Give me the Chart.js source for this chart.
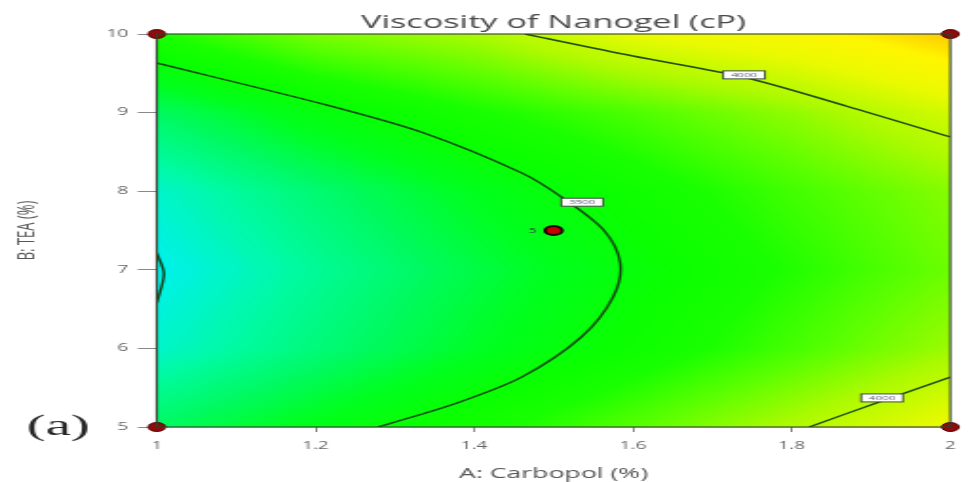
<!DOCTYPE html>
<html>
<head>
<meta charset="utf-8">
<title>Viscosity of Nanogel (cP)</title>
<script src="https://cdn.jsdelivr.net/npm/chart.js@4.4.0/dist/chart.umd.min.js"></script>
<style>
  html, body { margin: 0; padding: 0; background: #fff; overflow: hidden; }
  #grafico { display: block; }
</style>
</head>
<body>
<!-- the source picture is stretched sideways, so the canvas is drawn narrow and widened by css -->
<canvas id="grafico" width="511" height="482" style="width:971px;height:482px"></canvas>
<script>
// axis ticks
const carbopolTicks = [1, 1.2, 1.4, 1.6, 1.8, 2];
const teaTicks = [5, 6, 7, 8, 9, 10];

// viscosity (rows = TEA 5..10, cols = Carbopol 1..2)
const gridCarbopol = [1, 1.2, 1.4, 1.6, 1.8, 2];
const gridTea = [5, 6, 7, 8, 9, 10];
const viscosity = [
  [3285, 3442, 3607, 3784, 3970, 4169],
  [3064, 3231, 3399, 3571, 3746, 3925],
  [2990, 3166, 3338, 3505, 3668, 3828],
  [3064, 3250, 3424, 3587, 3738, 3878],
  [3285, 3481, 3640, 3760, 3900, 4076],
  [3654, 3859, 3955, 4150, 4250, 4422]
];

// contour lines
const contour3500X = [1.000, 1.214, 1.337, 1.460, 1.510, 1.563, 1.584, 1.575, 1.535, 1.460, 1.378, 1.279];
const contour3500Y = [9.631, 9.097, 8.740, 8.232, 7.926, 7.506, 7.087, 6.654, 6.145, 5.636, 5.305, 5.000];
const contour4000TopX = [1.464, 1.600, 1.740, 1.870, 2.000];
const contour4000TopY = [10.00, 9.720, 9.450, 9.080, 8.690];
const contour4000BottomX = [1.822, 1.917, 2.000];
const contour4000BottomY = [5.000, 5.343, 5.636];
const contour3000X = [1.000, 1.009, 1.000];
const contour3000Y = [7.214, 6.950, 6.578];

// contour labels
const contourLabelText = ['3500', '4000', '4000'];
const contourLabelX = [1.536, 1.740, 1.914];
const contourLabelY = [7.86, 9.48, 5.37];

// design points
const designCarbopol = [1, 2, 1, 2];
const designTea = [5, 5, 10, 10];
const centerCarbopol = [1.5];
const centerTea = [7.5];
const centerRuns = ['5'];

const colorStops = [
  [2990, [0, 240, 240]],
  [3060, [0, 245, 205]],
  [3150, [0, 250, 160]],
  [3280, [0, 250, 100]],
  [3420, [0, 255, 30]],
  [3550, [10, 255, 0]],
  [3650, [25, 255, 0]],
  [3800, [95, 255, 0]],
  [3950, [170, 250, 0]],
  [4150, [235, 250, 0]],
  [4300, [255, 245, 0]],
  [4422, [255, 200, 0]]
];

function toPoints(xs, ys) {
  return xs.map((x, i) => ({ x: x, y: ys[i] }));
}

function colorFor(v) {
  if (v <= colorStops[0][0]) return colorStops[0][1];
  for (let i = 1; i < colorStops.length; i++) {
    if (v <= colorStops[i][0]) {
      const [v0, c0] = colorStops[i - 1];
      const [v1, c1] = colorStops[i];
      const t = (v - v0) / (v1 - v0);
      return [0, 1, 2].map(k => c0[k] + (c1[k] - c0[k]) * t);
    }
  }
  return colorStops[colorStops.length - 1][1];
}

function cellIndex(arr, v) {
  let i = 0;
  while (i < arr.length - 2 && v > arr[i + 1]) i++;
  return i;
}

function valueAt(x, y) {
  const i = cellIndex(gridCarbopol, x);
  const j = cellIndex(gridTea, y);
  const tx = Math.min(1, Math.max(0, (x - gridCarbopol[i]) / (gridCarbopol[i + 1] - gridCarbopol[i])));
  const ty = Math.min(1, Math.max(0, (y - gridTea[j]) / (gridTea[j + 1] - gridTea[j])));
  return viscosity[j][i] * (1 - tx) * (1 - ty) + viscosity[j][i + 1] * tx * (1 - ty) +
    viscosity[j + 1][i] * (1 - tx) * ty + viscosity[j + 1][i + 1] * tx * ty;
}

// colour map under the lines
const mapaColor = {
  id: 'mapaColor',
  beforeDatasetsDraw(chart) {
    const { ctx, chartArea, scales } = chart;
    const w = Math.ceil(chartArea.right - chartArea.left);
    const h = Math.ceil(chartArea.bottom - chartArea.top);
    const off = document.createElement('canvas');
    off.width = w;
    off.height = h;
    const octx = off.getContext('2d');
    const img = octx.createImageData(w, h);
    for (let py = 0; py < h; py++) {
      const yv = scales.y.getValueForPixel(chartArea.top + py + 0.5);
      for (let px = 0; px < w; px++) {
        const xv = scales.x.getValueForPixel(chartArea.left + px + 0.5);
        const c = colorFor(valueAt(xv, yv));
        const k = (py * w + px) * 4;
        img.data[k] = c[0];
        img.data[k + 1] = c[1];
        img.data[k + 2] = c[2];
        img.data[k + 3] = 255;
      }
    }
    octx.putImageData(img, 0, 0);
    ctx.save();
    ctx.drawImage(off, chartArea.left, chartArea.top, chartArea.right - chartArea.left, chartArea.bottom - chartArea.top);
    ctx.restore();
  },
  afterDatasetsDraw(chart) {
    const { ctx, chartArea, scales } = chart;
    ctx.save();
    // frame
    ctx.strokeStyle = 'rgba(45,65,45,0.9)';
    ctx.lineWidth = 1.2;
    ctx.strokeRect(chartArea.left, chartArea.top, chartArea.right - chartArea.left, chartArea.bottom - chartArea.top);

    // contour labels
    ctx.font = '6px "Open Sans"';
    ctx.textAlign = 'center';
    ctx.textBaseline = 'middle';
    contourLabelText.forEach((t, i) => {
      const cx = scales.x.getPixelForValue(contourLabelX[i]);
      const cy = scales.y.getPixelForValue(contourLabelY[i]);
      ctx.fillStyle = '#ffffff';
      ctx.fillRect(cx - 11, cy - 4, 22, 8);
      ctx.strokeStyle = '#3d4d3d';
      ctx.lineWidth = 1;
      ctx.strokeRect(cx - 11, cy - 4, 22, 8);
      ctx.fillStyle = '#555577';
      ctx.fillText(t, cx, cy + 0.5);
    });

    // replicate count beside the centre point
    ctx.font = '7px "Open Sans"';
    ctx.textAlign = 'right';
    ctx.fillStyle = '#333';
    centerRuns.forEach((t, i) => {
      ctx.fillText(t, scales.x.getPixelForValue(centerCarbopol[i]) - 9, scales.y.getPixelForValue(centerTea[i]));
    });
    ctx.restore();
  },
  afterDraw(chart) {
    const { ctx, chartArea } = chart;
    ctx.save();
    ctx.font = '18px "Open Sans"';
    ctx.fillStyle = '#4a4a4a';
    ctx.textAlign = 'center';
    ctx.textBaseline = 'alphabetic';
    ctx.fillText('Viscosity of Nanogel (cP)', (chartArea.left + chartArea.right) / 2, 28);

    ctx.font = '30px "Liberation Serif"';
    ctx.fillStyle = '#262626';
    ctx.textAlign = 'left';
    ctx.fillText('(a)', 14, 435);
    ctx.restore();
  }
};

const lineaContorno = (pts) => ({
  data: pts,
  showLine: true,
  tension: 0.3,
  pointRadius: 0,
  borderColor: 'rgba(15,60,15,0.9)',
  borderWidth: 1.5,
  fill: false
});

const ctx = document.getElementById('grafico');
new Chart(ctx, {
  type: 'scatter',
  data: {
    datasets: [
      {
        label: 'center',
        data: toPoints(centerCarbopol, centerTea),
        pointRadius: 4.5,
        backgroundColor: '#c40000',
        borderColor: '#1a0000',
        borderWidth: 1.8
      },
      {
        label: 'design',
        data: toPoints(designCarbopol, designTea),
        pointRadius: 4.5,
        backgroundColor: '#8e0c0c',
        borderColor: '#5a0000',
        borderWidth: 1,
        clip: false
      },
      lineaContorno(toPoints(contour3500X, contour3500Y)),
      lineaContorno(toPoints(contour4000TopX, contour4000TopY)),
      lineaContorno(toPoints(contour4000BottomX, contour4000BottomY)),
      lineaContorno(toPoints(contour3000X, contour3000Y))
    ]
  },
  options: {
    responsive: false,
    animation: false,
    events: [],
    layout: {
      autoPadding: false,
      padding: { top: 34, right: 2, bottom: 0, left: 0 }
    },
    plugins: {
      legend: { display: false },
      tooltip: { enabled: false },
      title: { display: false }
    },
    scales: {
      x: {
        type: 'linear',
        position: 'bottom',
        min: 1,
        max: 2,
        afterBuildTicks: (s) => { s.ticks = carbopolTicks.map(v => ({ value: v })); },
        afterFit: (s) => { s.height = 55; },
        ticks: {
          color: '#666',
          font: { size: 10, family: 'Open Sans' },
          padding: 8,
          maxRotation: 0,
          autoSkip: false,
          callback: (v) => String(Math.round(v * 10) / 10)
        },
        grid: { drawOnChartArea: false, drawTicks: true, tickLength: 5, color: '#888' },
        border: { display: true, color: 'rgba(45,65,45,0.9)', width: 1.2 },
        title: {
          display: true,
          text: 'A: Carbopol (%)',
          color: '#555',
          font: { size: 14, family: 'Open Sans' },
          padding: { top: 0, bottom: 0 }
        }
      },
      y: {
        type: 'linear',
        position: 'left',
        min: 5,
        max: 10,
        afterBuildTicks: (s) => { s.ticks = teaTicks.map(v => ({ value: v })); },
        afterFit: (s) => { s.width = 82.5; },
        ticks: {
          color: '#666',
          font: { size: 10, family: 'Open Sans' },
          padding: 5,
          autoSkip: false
        },
        grid: { drawOnChartArea: false, drawTicks: true, tickLength: 10, color: '#888' },
        border: { display: true, color: 'rgba(45,65,45,0.9)', width: 1.2 },
        title: {
          display: true,
          text: 'B: TEA (%)',
          color: '#555',
          font: { size: 13, family: 'Open Sans' },
          padding: { top: 6, bottom: 0 }
        }
      }
    }
  },
  plugins: [mapaColor]
});
</script>
</body>
</html>
